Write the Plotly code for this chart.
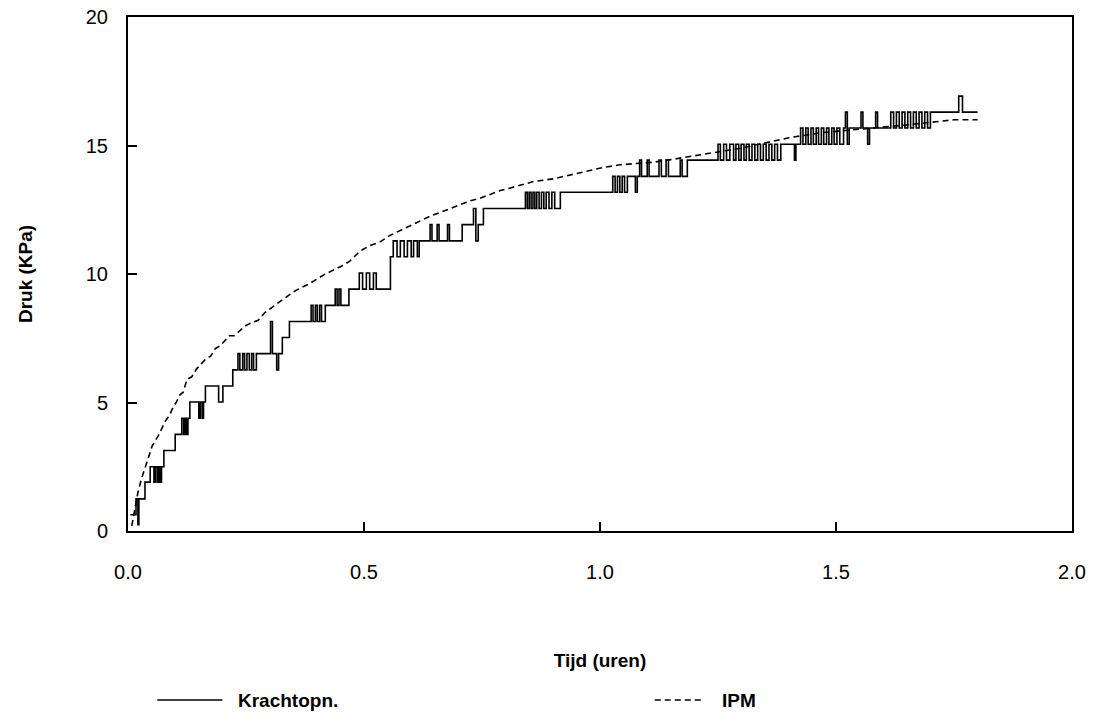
import plotly.graph_objects as go

# --- Data ---
# Krachtopn. (stepped force-recording, kPa) — step function with spikes
kracht_t = [0.005, 0.017, 0.021, 0.023, 0.036, 0.047, 0.055, 0.058, 0.062, 0.065,
            0.068, 0.071, 0.076, 0.100, 0.114, 0.118, 0.121, 0.124, 0.127, 0.131,
            0.150, 0.153, 0.157, 0.160, 0.164, 0.192, 0.201, 0.222, 0.233, 0.237,
            0.243, 0.247, 0.252, 0.257, 0.262, 0.266, 0.272, 0.302, 0.306, 0.315,
            0.319, 0.327, 0.342, 0.388, 0.392, 0.397, 0.401, 0.406, 0.410, 0.418,
            0.439, 0.443, 0.447, 0.451, 0.468, 0.490, 0.497, 0.505, 0.512, 0.520,
            0.526, 0.556, 0.562, 0.570, 0.577, 0.585, 0.592, 0.600, 0.605, 0.613,
            0.617, 0.640, 0.644, 0.655, 0.659, 0.677, 0.681, 0.708, 0.732, 0.737,
            0.742, 0.753, 0.842, 0.846, 0.850, 0.854, 0.858, 0.862, 0.866, 0.871,
            0.876, 0.881, 0.886, 0.892, 0.898, 0.904, 0.916, 1.027, 1.032, 1.037,
            1.042, 1.047, 1.052, 1.058, 1.075, 1.079, 1.084, 1.088, 1.100, 1.104,
            1.125, 1.130, 1.140, 1.145, 1.170, 1.174, 1.185, 1.250, 1.255, 1.262,
            1.268, 1.275, 1.283, 1.288, 1.294, 1.299, 1.305, 1.310, 1.316, 1.322,
            1.328, 1.334, 1.340, 1.346, 1.352, 1.358, 1.364, 1.370, 1.376, 1.383,
            1.412, 1.415, 1.425, 1.430, 1.436, 1.441, 1.447, 1.452, 1.458, 1.463,
            1.469, 1.474, 1.480, 1.485, 1.491, 1.496, 1.502, 1.508, 1.516, 1.520,
            1.524, 1.528, 1.553, 1.557, 1.567, 1.571, 1.584, 1.588, 1.616, 1.622,
            1.628, 1.634, 1.640, 1.646, 1.652, 1.658, 1.664, 1.670, 1.676, 1.682,
            1.688, 1.694, 1.700, 1.707, 1.760, 1.768, 1.800]
kracht_v = [0.63, 1.25, 0.25, 1.25, 1.90, 2.50, 1.90, 2.50, 1.90, 2.50,
            1.90, 2.50, 3.13, 3.76, 4.39, 3.76, 4.39, 3.76, 4.39, 5.02,
            4.39, 5.02, 4.39, 5.02, 5.64, 5.02, 5.64, 6.27, 6.90, 6.27,
            6.90, 6.27, 6.90, 6.27, 6.90, 6.27, 6.90, 8.15, 6.90, 6.27,
            6.90, 7.53, 8.15, 8.78, 8.15, 8.78, 8.15, 8.78, 8.15, 8.78,
            9.41, 8.78, 9.41, 8.78, 9.41, 10.04, 9.41, 10.04, 9.41, 10.04,
            9.41, 10.67, 11.29, 10.67, 11.29, 10.67, 11.29, 10.67, 11.29, 10.67,
            11.29, 11.92, 11.29, 11.92, 11.29, 11.92, 11.29, 11.92, 12.55, 11.29,
            11.92, 12.55, 13.18, 12.55, 13.18, 12.55, 13.18, 12.55, 13.18, 12.55,
            13.18, 12.55, 13.18, 12.55, 13.18, 12.55, 13.18, 13.80, 13.18, 13.80,
            13.18, 13.80, 13.18, 13.80, 13.18, 13.80, 14.43, 13.80, 14.43, 13.80,
            14.43, 13.80, 14.43, 13.80, 14.43, 13.80, 14.43, 15.05, 14.43, 15.05,
            14.43, 15.05, 14.43, 15.05, 14.43, 15.05, 14.43, 15.05, 14.43, 15.05,
            14.43, 15.05, 14.43, 15.05, 14.43, 15.05, 14.43, 15.05, 14.43, 15.05,
            14.43, 15.05, 15.68, 15.05, 15.68, 15.05, 15.68, 15.05, 15.68, 15.05,
            15.68, 15.05, 15.68, 15.05, 15.68, 15.05, 15.68, 15.05, 15.68, 16.30,
            15.05, 15.68, 16.30, 15.68, 15.05, 15.68, 16.30, 15.68, 16.30, 15.68,
            16.30, 15.68, 16.30, 15.68, 16.30, 15.68, 16.30, 15.68, 16.30, 15.68,
            16.30, 15.68, 16.30, 16.30, 16.92, 16.30, 16.30]

# IPM (dashed) readings
ipm_t = [0.008, 0.015, 0.021, 0.028, 0.036, 0.044, 0.051, 0.058, 0.064, 0.072,
         0.080, 0.088, 0.095, 0.102, 0.110, 0.117, 0.125, 0.135, 0.145, 0.155,
         0.165, 0.175, 0.185, 0.195, 0.205, 0.215, 0.225, 0.238, 0.250, 0.262,
         0.276, 0.290, 0.305, 0.320, 0.337, 0.350, 0.365, 0.382, 0.400, 0.418,
         0.435, 0.452, 0.470, 0.492, 0.512, 0.534, 0.555, 0.577, 0.598, 0.620,
         0.640, 0.662, 0.683, 0.704, 0.725, 0.746, 0.768, 0.789, 0.810, 0.830,
         0.860, 0.900, 0.935, 0.973, 1.008, 1.043, 1.078, 1.113, 1.150, 1.185,
         1.220, 1.256, 1.300, 1.350, 1.400, 1.470, 1.530, 1.600, 1.650, 1.700,
         1.750, 1.800]
ipm_v = [0.2, 0.9, 1.5, 2.0, 2.5, 2.9, 3.3, 3.5, 3.7, 4.0,
         4.3, 4.5, 4.8, 5.0, 5.3, 5.4, 5.9, 6.0, 6.3, 6.5,
         6.7, 6.8, 7.1, 7.2, 7.4, 7.6, 7.6, 7.8, 8.0, 8.1,
         8.2, 8.5, 8.7, 8.9, 9.1, 9.3, 9.45, 9.6, 9.8, 10.0,
         10.15, 10.3, 10.5, 10.9, 11.1, 11.25, 11.5, 11.7, 11.9, 12.1,
         12.25, 12.4, 12.55, 12.7, 12.85, 12.95, 13.1, 13.25, 13.35, 13.45,
         13.6, 13.7, 13.85, 14.0, 14.15, 14.25, 14.3, 14.35, 14.45, 14.55,
         14.65, 14.75, 14.9, 15.1, 15.3, 15.5, 15.6, 15.7, 15.8, 15.9,
         16.0, 16.0]

x_ticks = [0.0, 0.5, 1.0, 1.5, 2.0]
x_ticklabels = ["0.0", "0.5", "1.0", "1.5", "2.0"]
y_ticks = [0, 5, 10, 15, 20]
series_names = ["Krachtopn.", "IPM"]

title_font = dict(family="Liberation Sans, Arial, sans-serif", size=19,
                  color="black", weight="bold")
tick_font = dict(family="Liberation Sans, Arial, sans-serif", size=20, color="black")

fig = go.Figure()
fig.add_trace(go.Scatter(x=kracht_t, y=kracht_v, mode="lines", name=series_names[0],
                         showlegend=False,
                         line=dict(color="black", width=1.6, shape="hv")))
fig.add_trace(go.Scatter(x=ipm_t, y=ipm_v, mode="lines", name=series_names[1],
                         showlegend=False,
                         line=dict(color="black", width=1.6, dash="6px,4px")))

# Legend drawn below the x-axis title (as in the reference)
legend_y = -0.329
fig.add_shape(type="line", xref="paper", yref="paper", x0=0.031, x1=0.100,
              y0=legend_y, y1=legend_y, line=dict(color="black", width=1.5))
fig.add_shape(type="line", xref="paper", yref="paper", x0=0.558, x1=0.611,
              y0=legend_y, y1=legend_y, line=dict(color="black", width=1.5, dash="6px,4px"))
fig.add_annotation(xref="paper", yref="paper", x=0.114, y=legend_y, xanchor="left",
                   yanchor="middle", text=series_names[0], showarrow=False, font=title_font)
fig.add_annotation(xref="paper", yref="paper", x=0.627, y=legend_y, xanchor="left",
                   yanchor="middle", text=series_names[1], showarrow=False, font=title_font)

fig.update_layout(
    width=1093, height=715,
    margin=dict(l=128, r=21, t=17, b=184),
    paper_bgcolor="white", plot_bgcolor="white",
    showlegend=False,
    xaxis=dict(range=[0, 2], tickvals=x_ticks, ticktext=x_ticklabels,
               ticks="inside", ticklen=9, tickwidth=1.5, tickcolor="black",
               showline=True, linecolor="black", linewidth=2, mirror=True,
               showgrid=False, zeroline=False, tickfont=tick_font,
               ticklabelstandoff=22, automargin=False, ticklabeloverflow="allow",
               title=dict(text="Tijd (uren)", font=title_font, standoff=72)),
    yaxis=dict(range=[0, 20], tickvals=y_ticks,
               ticks="inside", ticklen=9, tickwidth=1.5, tickcolor="black",
               showline=True, linecolor="black", linewidth=2, mirror=True,
               showgrid=False, zeroline=False, tickfont=tick_font,
               ticklabelstandoff=14, automargin=False, ticklabeloverflow="allow",
               title=dict(text="Druk (KPa)", font=title_font, standoff=48)),
)

# remove the browser's default 8px page margin so the figure sits at (0, 0)
fig.write_html("out.html", config={"displayModeBar": False},
               post_script="document.body.style.margin='0';")
